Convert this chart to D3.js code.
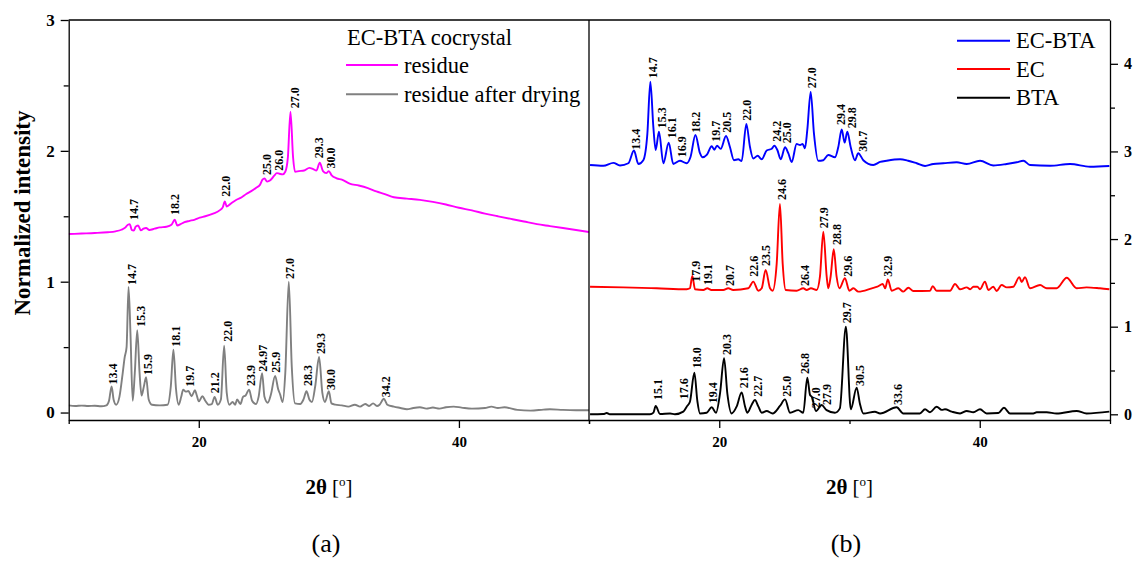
<!DOCTYPE html>
<html>
<head>
<meta charset="utf-8">
<script src="https://cdn.jsdelivr.net/npm/d3@7"></script>
<style>
  body { margin: 0; background: #fff; }
  svg { display: block; }
  text { font-family: "Liberation Serif", "Times New Roman", serif; fill: #000; }
</style>
</head>
<body>
<svg id="chart" width="1134" height="561"></svg>
<script>
// ---- data: [2theta, normalized intensity] ----
const residue = [[10,1.364],[11,1.368],[12,1.372],[13,1.378],[13.6,1.385],[14.05,1.397],[14.3,1.41],[14.55,1.435],[14.69,1.44],[14.85,1.395],[15,1.39],[15.15,1.42],[15.33,1.43],[15.55,1.393],[15.75,1.405],[15.95,1.41],[16.2,1.395],[16.6,1.405],[17,1.415],[17.5,1.42],[17.9,1.435],[18.15,1.473],[18.35,1.43],[18.6,1.44],[18.9,1.455],[19.3,1.465],[19.7,1.475],[20.08,1.49],[20.5,1.5],[21.1,1.52],[21.6,1.545],[21.85,1.57],[22,1.613],[22.15,1.575],[22.5,1.6],[22.9,1.626],[23.3,1.645],[23.65,1.67],[24,1.69],[24.44,1.72],[24.7,1.74],[24.9,1.78],[25.05,1.79],[25.25,1.765],[25.5,1.775],[25.8,1.81],[26,1.83],[26.2,1.825],[26.45,1.82],[26.65,1.84],[26.85,1.95],[27.05,2.3],[27.25,1.95],[27.4,1.84],[27.7,1.845],[28.1,1.85],[28.5,1.87],[28.8,1.86],[29.05,1.85],[29.3,1.91],[29.55,1.845],[29.8,1.83],[30,1.845],[30.2,1.815],[30.6,1.79],[31,1.78],[31.6,1.75],[32.3,1.735],[33,1.715],[33.65,1.69],[34.3,1.67],[35,1.645],[36,1.635],[37,1.625],[38,1.61],[39,1.59],[40,1.565],[41,1.545],[42,1.52],[43,1.5],[44,1.48],[45,1.46],[46,1.44],[47,1.425],[48,1.41],[49,1.395],[50,1.38]];

const residueDried = [[10,0.055],[10.5,0.05],[11,0.053],[11.5,0.05],[12,0.052],[12.5,0.048],[12.9,0.055],[13.1,0.09],[13.3,0.2],[13.45,0.1],[13.65,0.06],[13.9,0.12],[14.15,0.3],[14.3,0.42],[14.45,0.5],[14.6,0.96],[14.75,0.6],[14.92,0.09],[15.08,0.3],[15.27,0.63],[15.45,0.3],[15.6,0.13],[15.78,0.2],[15.95,0.27],[16.15,0.1],[16.4,0.06],[17,0.055],[17.6,0.06],[17.85,0.2],[18.05,0.48],[18.25,0.18],[18.45,0.06],[18.65,0.12],[18.8,0.175],[19,0.16],[19.2,0.165],[19.45,0.125],[19.7,0.17],[19.85,0.13],[20,0.085],[20.28,0.125],[20.5,0.09],[20.75,0.06],[21,0.065],[21.22,0.12],[21.45,0.06],[21.7,0.1],[21.95,0.51],[22.15,0.15],[22.35,0.06],[22.6,0.08],[22.8,0.06],[22.95,0.1],[23.2,0.065],[23.4,0.12],[23.6,0.13],[23.87,0.175],[24.1,0.09],[24.4,0.065],[24.6,0.12],[24.87,0.3],[25.05,0.12],[25.3,0.075],[25.55,0.14],[25.87,0.28],[26.1,0.18],[26.25,0.14],[26.45,0.08],[26.65,0.3],[26.92,1.0],[27.15,0.35],[27.4,0.07],[27.8,0.065],[28.05,0.1],[28.28,0.163],[28.5,0.1],[28.7,0.08],[28.95,0.2],[29.25,0.425],[29.5,0.15],[29.7,0.08],[30,0.163],[30.2,0.07],[30.5,0.06],[31,0.055],[31.5,0.045],[32,0.06],[32.4,0.045],[32.8,0.065],[33.1,0.05],[33.4,0.07],[33.7,0.05],[33.9,0.06],[34.23,0.105],[34.5,0.06],[35,0.045],[35.5,0.035],[36,0.025],[36.5,0.035],[37,0.04],[37.5,0.03],[38,0.038],[38.5,0.03],[39,0.04],[39.6,0.045],[40.2,0.038],[41,0.03],[42,0.035],[42.5,0.045],[43,0.035],[43.5,0.04],[44.5,0.02],[45.5,0.015],[46.5,0.022],[47,0.025],[48,0.02],[49,0.018],[50,0.018]];

const ecbta = [[10.08,2.845],[11.1,2.837],[11.87,2.87],[12.38,2.84],[13.02,2.865],[13.45,3.01],[13.79,2.857],[14.17,2.9],[14.48,3.2],[14.71,3.796],[14.94,3.28],[15.12,3.016],[15.37,3.225],[15.71,2.865],[16.12,3.1],[16.47,2.857],[16.98,2.894],[17.5,2.865],[17.8,2.94],[18.17,3.188],[18.52,2.98],[18.72,2.933],[19.04,2.96],[19.42,3.06],[19.62,3.02],[19.83,3.065],[20.11,3.03],[20.52,3.176],[20.82,3.05],[21.13,2.9],[21.46,2.91],[21.72,2.89],[22.08,3.313],[22.36,3.05],[22.61,2.92],[22.95,2.95],[23.26,2.91],[23.64,3.01],[24.03,3.03],[24.23,3.065],[24.46,3.016],[24.72,2.91],[25.05,3.047],[25.3,2.98],[25.56,2.88],[25.94,3.085],[26.2,3.073],[26.4,3.085],[26.58,3.036],[26.76,3.245],[27.02,3.68],[27.27,3.207],[27.6,2.894],[27.99,2.9],[28.37,2.96],[28.89,2.933],[29.14,3.05],[29.4,3.25],[29.63,3.1],[29.83,3.225],[30.09,3.05],[30.42,2.9],[30.67,2.98],[31.06,2.9],[31.83,2.845],[32.35,2.88],[32.86,2.894],[33.88,2.91],[34.5,2.894],[35.16,2.865],[35.8,2.834],[36.43,2.857],[37.2,2.865],[38.23,2.876],[39,2.857],[40.02,2.894],[41.04,2.84],[42.07,2.857],[42.84,2.876],[43.35,2.894],[43.86,2.845],[45.4,2.837],[46.93,2.857],[48.47,2.826],[49.95,2.834]];

const ec = [[10.08,1.456],[12.63,1.449],[15.2,1.438],[17.5,1.427],[17.75,1.438],[17.93,1.578],[18.14,1.427],[18.78,1.419],[19.08,1.438],[19.4,1.419],[20.31,1.419],[20.69,1.438],[21.07,1.419],[22.23,1.438],[22.61,1.514],[23,1.41],[23.26,1.438],[23.56,1.647],[23.9,1.438],[24.1,1.41],[24.41,1.72],[24.66,2.4],[24.87,1.72],[25.1,1.419],[25.94,1.41],[26.45,1.438],[26.71,1.419],[27.04,1.438],[27.48,1.419],[27.73,1.57],[27.99,2.084],[28.25,1.57],[28.37,1.438],[28.55,1.57],[28.79,1.883],[29.01,1.57],[29.22,1.438],[29.65,1.552],[29.99,1.41],[30.3,1.438],[30.68,1.4],[31.71,1.438],[32.14,1.456],[32.55,1.487],[32.74,1.438],[32.94,1.54],[33.24,1.41],[33.75,1.438],[34.13,1.4],[34.52,1.445],[34.9,1.407],[36.18,1.41],[36.39,1.463],[36.69,1.41],[37.72,1.41],[38.1,1.487],[38.49,1.427],[39,1.449],[39.26,1.427],[39.51,1.456],[39.82,1.456],[40.02,1.427],[40.4,1.514],[40.66,1.419],[41.04,1.456],[41.3,1.407],[41.68,1.475],[42.07,1.449],[42.58,1.456],[43.04,1.565],[43.22,1.51],[43.47,1.565],[43.86,1.438],[44.63,1.475],[45.14,1.438],[45.9,1.438],[46.68,1.558],[47.44,1.438],[48.2,1.449],[49.23,1.438],[49.95,1.427]];

const bta = [[10.08,0.0],[11.1,0.003],[11.36,0.015],[11.6,0.0],[14.68,0.0],[14.95,0.02],[15.12,0.095],[15.45,0.003],[16.22,0.01],[16.6,0.0],[17.24,0.03],[17.5,0.087],[17.75,0.144],[18.09,0.475],[18.32,0.15],[18.52,0.01],[19.03,0.018],[19.42,0.08],[19.75,0.018],[20.06,0.24],[20.37,0.64],[20.62,0.24],[20.95,0.01],[21.34,0.09],[21.72,0.25],[21.98,0.09],[22.16,0.018],[22.49,0.11],[22.74,0.163],[23,0.09],[23.26,0.018],[23.64,0.037],[24.1,0.01],[24.66,0.095],[25.05,0.17],[25.43,0.018],[26.07,0.048],[26.45,0.018],[26.76,0.418],[26.97,0.22],[27.1,0.2],[27.43,0.037],[27.86,0.106],[28.24,0.048],[28.88,0.018],[29.26,0.068],[29.72,1.0],[30.1,0.057],[30.55,0.304],[30.8,0.12],[31.06,0.01],[31.95,0.03],[32.35,0.01],[33.62,0.08],[34.13,0.01],[34.38,0.01],[35.4,0.01],[35.8,0.057],[36.18,0.023],[36.69,0.087],[37.08,0.05],[37.33,0.057],[37.85,0.03],[38.49,0.01],[39,0.038],[39.51,0.023],[40.02,0.057],[40.53,0.01],[41.43,0.015],[41.86,0.075],[42.32,0.01],[44.11,0.01],[44.37,0.023],[45.14,0.023],[45.9,0.01],[47.44,0.038],[48.2,0.01],[49.95,0.03]];

// peak labels: [text, 2theta of label, intensity at label foot]
const residueLabels = [["14.7",15.02,1.471],["18.2",18.16,1.509],["22.0",22.13,1.649],["25.0",25.21,1.815],["26.0",26.18,1.848],["27.0",27.38,2.325],["29.3",29.25,1.943],["30.0",30.2,1.866]];
const driedLabels = [["13.4",13.42,0.215],["14.7",14.84,0.974],["15.3",15.53,0.656],["15.9",16.11,0.287],["18.1",18.24,0.503],["19.7",19.32,0.198],["21.2",21.24,0.147],["22.0",22.21,0.541],["23.9",23.98,0.202],["24.97",24.9,0.311],["25.9",25.92,0.304],["27.0",27.05,1.02],["28.3",28.4,0.202],["29.3",29.36,0.447],["30.0",30.2,0.172],["34.2",34.37,0.116]];
const ecbtaLabels = [["13.4",13.62,3.02],["14.7",14.91,3.835],["15.3",15.6,3.264],["16.1",16.37,3.15],["16.9",17.14,2.933],["18.2",18.22,3.214],["19.7",19.75,3.111],["20.5",20.57,3.214],["22.0",22.15,3.351],["24.2",24.4,3.111],["25.0",25.2,3.093],["27.0",27.1,3.72],["29.4",29.32,3.302],["29.8",30.2,3.264],["30.7",31.06,2.997]];
const ecLabels = [["17.9",18.21,1.513],["19.1",19.15,1.476],["20.7",20.82,1.465],["22.6",22.68,1.57],["23.5",23.6,1.693],["24.6",24.8,2.446],["26.4",26.6,1.465],["27.9",28.04,2.123],["28.8",29.06,1.932],["29.6",29.9,1.57],["32.9",32.98,1.57]];
const btaLabels = [["15.1",15.32,0.163],["17.6",17.32,0.171],["18.0",18.27,0.525],["19.4",19.5,0.126],["20.3",20.57,0.677],["21.6",21.9,0.297],["22.7",23.0,0.2],["25.0",25.18,0.2],["26.8",26.58,0.46],["27.0",27.43,0.07],["27.9",28.3,0.106],["29.7",29.83,1.04],["30.5",30.8,0.323],["33.6",33.75,0.106]];

const xTicksMajor = [20, 40];
const xTicksMinor = [10, 30, 50];
const yLeftTicks = [0, 1, 2, 3];
const yLeftMinor = [0.5, 1.5, 2.5];
const yRightTicks = [0, 1, 2, 3, 4];
const yRightMinor = [0.5, 1.5, 2.5, 3.5];

const svg = d3.select('#chart');
svg.append('rect').attr('width', 1134).attr('height', 561).attr('fill', '#fff');

// scales for the two panels
const xL = d3.scaleLinear().domain([10, 50]).range([68.7, 589]);
const yL = d3.scaleLinear().domain([-0.057, 3]).range([420, 20]);
const xR = d3.scaleLinear().domain([10, 50]).range([589, 1110]);
const yR = d3.scaleLinear().domain([-0.065, 4.5]).range([420, 20]);

const defs = svg.append('defs');
defs.append('clipPath').attr('id', 'clipL').append('rect')
  .attr('x', 68.7).attr('y', 20).attr('width', 589 - 68.7).attr('height', 400);
defs.append('clipPath').attr('id', 'clipR').append('rect')
  .attr('x', 589).attr('y', 20).attr('width', 1110 - 589).attr('height', 400);

function drawCurve(data, x, y, color, clip) {
  const line = d3.line()
    .x(d => x(d[0]))
    .y(d => y(d[1]))
    .curve(d3.curveMonotoneX);
  svg.append('path')
    .datum(data)
    .attr('clip-path', `url(#${clip})`)
    .attr('fill', 'none')
    .attr('stroke', color)
    .attr('stroke-width', 1.9)
    .attr('stroke-linejoin', 'round')
    .attr('d', line);
}

function drawLabels(labels, x, y) {
  svg.append('g')
    .selectAll('text')
    .data(labels)
    .join('text')
    .attr('transform', d => `translate(${x(d[1]) + 4},${y(d[2])}) rotate(-90)`)
    .attr('font-size', 12)
    .attr('font-weight', 'bold')
    .text(d => d[0]);
}

drawCurve(residue, xL, yL, '#ff00ff', 'clipL');
drawCurve(residueDried, xL, yL, '#808080', 'clipL');
drawCurve(ecbta, xR, yR, '#0000ff', 'clipR');
drawCurve(ec, xR, yR, '#ff0000', 'clipR');
drawCurve(bta, xR, yR, '#000000', 'clipR');

drawLabels(residueLabels, xL, yL);
drawLabels(driedLabels, xL, yL);
drawLabels(ecbtaLabels, xR, yR);
drawLabels(ecLabels, xR, yR);
drawLabels(btaLabels, xR, yR);

// frame lines
svg.append('line').attr('x1', 68.7).attr('x2', 1110).attr('y1', 20).attr('y2', 20)
  .attr('stroke', '#000').attr('stroke-width', 1.3);
svg.append('line').attr('x1', 589).attr('x2', 589).attr('y1', 20).attr('y2', 420)
  .attr('stroke', '#000').attr('stroke-width', 1.3);

function styleAxis(g, size) {
  g.selectAll('path.domain').attr('stroke-width', 1.3);
  g.selectAll('.tick line').attr('stroke-width', 1.3);
  g.selectAll('.tick text')
    .attr('font-family', '"Liberation Serif", "Times New Roman", serif')
    .attr('font-weight', 'bold')
    .attr('font-size', size);
}

// bottom axes
[xL, xR].forEach(x => {
  const major = svg.append('g').attr('transform', 'translate(0,420)')
    .call(d3.axisBottom(x).tickValues(xTicksMajor).tickSize(8).tickSizeOuter(0).tickPadding(8).tickFormat(d3.format('d')));
  styleAxis(major, 15);
  const minor = svg.append('g').attr('transform', 'translate(0,420)')
    .call(d3.axisBottom(x).tickValues(xTicksMinor).tickSize(4).tickSizeOuter(0).tickFormat(''));
  minor.select('path.domain').remove();
  styleAxis(minor, 15);
});

// left y axis
const leftMajor = svg.append('g').attr('transform', 'translate(68.7,0)')
  .call(d3.axisLeft(yL).tickValues(yLeftTicks).tickSize(8).tickSizeOuter(0).tickPadding(6).tickFormat(d3.format('d')));
styleAxis(leftMajor, 17);
const leftMinor = svg.append('g').attr('transform', 'translate(68.7,0)')
  .call(d3.axisLeft(yL).tickValues(yLeftMinor).tickSize(5).tickFormat(''));
leftMinor.select('path.domain').remove();
styleAxis(leftMinor, 17);

// right y axis
const rightMajor = svg.append('g').attr('transform', 'translate(1110,0)')
  .call(d3.axisRight(yR).tickValues(yRightTicks).tickSize(8).tickSizeOuter(0).tickPadding(6).tickFormat(d3.format('d')));
styleAxis(rightMajor, 16);
const rightMinor = svg.append('g').attr('transform', 'translate(1110,0)')
  .call(d3.axisRight(yR).tickValues(yRightMinor).tickSize(5).tickFormat(''));
rightMinor.select('path.domain').remove();
styleAxis(rightMinor, 16);

// axis titles
svg.append('text')
  .attr('transform', 'translate(30,213) rotate(-90)')
  .attr('text-anchor', 'middle')
  .attr('font-size', 23)
  .attr('font-weight', 'bold')
  .text('Normalized intensity');

function xTitle(cx) {
  const t = svg.append('text')
    .attr('x', cx).attr('y', 494)
    .attr('text-anchor', 'middle')
    .attr('font-size', 21);
  t.append('tspan').attr('font-weight', 'bold').text('2θ');
  t.append('tspan').text(' [');
  t.append('tspan').attr('font-size', 13).attr('dy', -8).text('o');
  t.append('tspan').attr('dy', 8).text(']');
}
xTitle(329);
xTitle(849.5);

svg.append('text').attr('x', 326).attr('y', 552).attr('text-anchor', 'middle')
  .attr('font-size', 26).text('(a)');
svg.append('text').attr('x', 846).attr('y', 552).attr('text-anchor', 'middle')
  .attr('font-size', 26).text('(b)');

// legends
const legendL = [['residue', '#ff00ff', 65], ['residue after drying', '#808080', 94.3]];
svg.append('text').attr('x', 347).attr('y', 45).attr('font-size', 22.5).text('EC-BTA cocrystal');
legendL.forEach(([name, color, ly]) => {
  svg.append('line').attr('x1', 346).attr('x2', 398).attr('y1', ly).attr('y2', ly)
    .attr('stroke', color).attr('stroke-width', 2);
  svg.append('text').attr('x', 404).attr('y', ly + 7.5).attr('font-size', 22.5).text(name);
});

const legendR = [['EC-BTA', '#0000ff', 40.7], ['EC', '#ff0000', 69], ['BTA', '#000000', 97.7]];
legendR.forEach(([name, color, ly]) => {
  svg.append('line').attr('x1', 957).attr('x2', 1010).attr('y1', ly).attr('y2', ly)
    .attr('stroke', color).attr('stroke-width', 2);
  svg.append('text').attr('x', 1016).attr('y', ly + 7.5).attr('font-size', 22.5).text(name);
});
</script>
</body>
</html>
